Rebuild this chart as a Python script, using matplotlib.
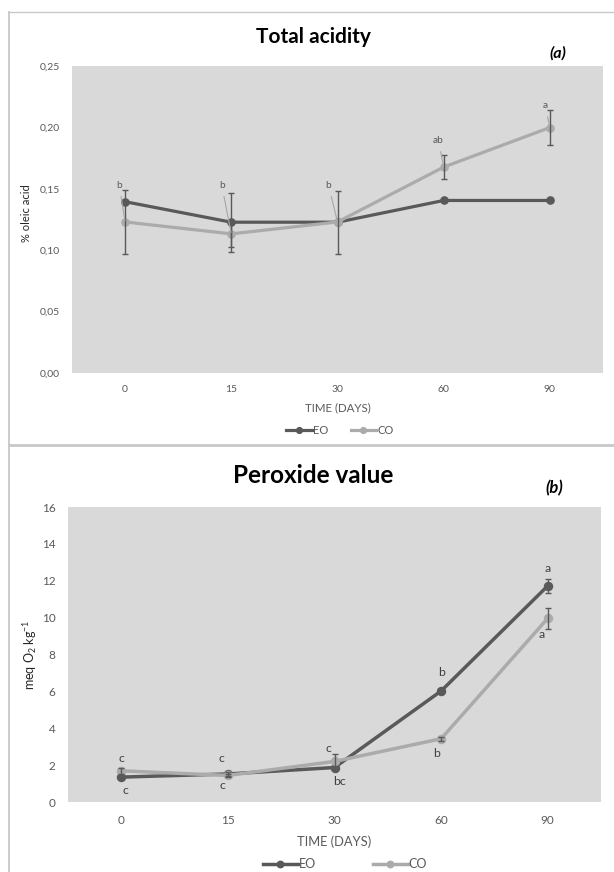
import numpy as np
import matplotlib
matplotlib.use("Agg")
import matplotlib.pyplot as plt
from matplotlib.lines import Line2D

plt.rcParams['font.family'] = ['Lato', 'DejaVu Sans']
plt.rcParams['mathtext.fontset'] = 'custom'
plt.rcParams['mathtext.rm'] = 'Lato'
plt.rcParams['mathtext.it'] = 'Lato:italic'
plt.rcParams['mathtext.bf'] = 'Lato:bold'

# ---------------- data ----------------
days = ["0", "15", "30", "60", "90"]

acid_eo = [0.1395, 0.1228, 0.1228, 0.1405, 0.1405]
acid_co = [0.1230, 0.1133, 0.1230, 0.1677, 0.1999]
acid_eo_err = [0.0, 0.024, 0.0255, 0.0, 0.0]
acid_co_err = [0.026, 0.011, 0.0, 0.010, 0.014]
acid_yticks = [0.00, 0.05, 0.10, 0.15, 0.20, 0.25]
acid_ytick_labels = ["0,00", "0,05", "0,10", "0,15", "0,20", "0,25"]
acid_letters = ["b", "b", "b", "ab", "a"]
acid_letter_y = [0.153, 0.153, 0.153, 0.1895, 0.218]
acid_letter_dx = [-0.055, -0.09, -0.085, -0.05, -0.045]

perox_eo = [1.35, 1.52, 1.87, 6.02, 11.72]
perox_co = [1.69, 1.44, 2.20, 3.43, 9.96]
perox_eo_err = [0.1, 0.1, 0.1, 0.1, 0.40]
perox_co_err = [0.15, 0.1, 0.40, 0.1, 0.57]
perox_yticks = [0, 2, 4, 6, 8, 10, 12, 14, 16]
perox_letters_top = ["c", "c", "c", "b", "a"]
perox_letters_top_y = [2.38, 2.38, 2.92, 7.0, 12.67]
perox_letters_top_dx = [0.0, -0.06, -0.055, 0.0, 0.0]
perox_letters_bot = ["c", "c", "bc", "b", "a"]
perox_letters_bot_y = [0.61, 0.88, 1.12, 2.61, 9.09]
perox_letters_bot_dx = [0.037, -0.055, 0.044, -0.04, -0.055]

# ---------------- style ----------------
W, H = 614, 872
EO_C = "#595959"
CO_C = "#ABABAB"
BG = "#D9D9D9"
TXT = "#595959"
FRAME = "#C8C8C8"

fig = plt.figure(figsize=(W / 100, H / 100), dpi=100)
fig.patch.set_facecolor("white")


def fx(px):
    return px / W


def fy(py):
    return 1 - py / H


# frames
fig.add_artist(Line2D([fx(8.5), fx(8.5)], [fy(12), fy(872)], color=FRAME, lw=1.3))
fig.add_artist(Line2D([fx(8.5), fx(614)], [fy(12), fy(12)], color=FRAME, lw=1.0))
fig.add_artist(Line2D([fx(8.5), fx(614)], [fy(445), fy(445)], color=FRAME, lw=2.0))

x = np.arange(len(days))


def draw_series(ax, eo, co, eo_err, co_err, lw, ms, capsize):
    ax.plot(x, eo, color=EO_C, lw=lw, marker="o", ms=ms, label="EO", zorder=3)
    ax.plot(x, co, color=CO_C, lw=lw, marker="o", ms=ms, label="CO", zorder=4)
    for vals, errs in ((eo, eo_err), (co, co_err)):
        idx = [i for i, e in enumerate(errs) if e > 0]
        ax.errorbar(x[idx], np.array(vals)[idx], yerr=np.array(errs)[idx], fmt="none",
                    ecolor=EO_C, elinewidth=1.0, capsize=capsize, capthick=1.0, zorder=5)


def style_axes(ax, fs):
    ax.set_facecolor(BG)
    for s in ax.spines.values():
        s.set_visible(False)
    ax.set_xlim(-0.5, len(days) - 0.5)
    ax.set_xticks(x)
    ax.set_xticklabels(days)
    ax.tick_params(length=0, labelsize=fs, colors=TXT, pad=9)
    ax.tick_params(axis="y", pad=9)


# ---------------- top panel ----------------
ax1 = fig.add_axes([fx(72), fy(373), fx(603) - fx(72), (373 - 66) / H])
style_axes(ax1, 7.5)
draw_series(ax1, acid_eo, acid_co, acid_eo_err, acid_co_err, 2.3, 5.2, 2.2)
ax1.set_ylim(0, 0.25)
ax1.set_yticks(acid_yticks)
ax1.set_yticklabels(acid_ytick_labels)
for i, lab in enumerate(acid_letters):
    ax1.annotate(lab, xy=(x[i], acid_co[i]), xytext=(x[i] + acid_letter_dx[i], acid_letter_y[i]),
                 ha="center", va="center", fontsize=7.3, color=TXT,
                 arrowprops=dict(arrowstyle="-", color="#A6A6A6", lw=0.8, shrinkA=3, shrinkB=1),
                 zorder=6)
ax1.set_ylabel("% oleic acid", fontsize=8, color="#262626", va="center")
ax1.yaxis.set_label_coords(-(72 - 26) / (603 - 72), 0.52)
ax1.set_xlabel("TIME (DAYS)", fontsize=8.3, color=TXT, va="center")
ax1.xaxis.set_label_coords(0.5, -(407.7 - 373) / (373 - 66))
fig.text(fx(313), fy(37), "Total acidity", ha="center", va="center",
         fontsize=15, fontweight="bold", color="black")
fig.text(fx(558), fy(53), "(a)", ha="center", va="center",
         fontsize=11.5, fontweight="bold", fontstyle="italic", color="black")
leg1 = ax1.legend(loc="center", bbox_to_anchor=(fx(340), fy(430)), bbox_transform=fig.transFigure,
                  ncol=2, frameon=False, fontsize=8, handlelength=2.3, columnspacing=2.0,
                  handletextpad=0.1, markerscale=0.8)
for t in leg1.get_texts():
    t.set_color(TXT)

# ---------------- bottom panel ----------------
ax2 = fig.add_axes([fx(68), fy(802), fx(601) - fx(68), (802 - 507) / H])
style_axes(ax2, 8.5)
draw_series(ax2, perox_eo, perox_co, perox_eo_err, perox_co_err, 2.5, 5.8, 2.5)
ax2.set_ylim(0, 16)
ax2.set_yticks(perox_yticks)
ax2.set_yticklabels([str(v) for v in perox_yticks])
for i in range(len(days)):
    ax2.text(x[i] + perox_letters_top_dx[i], perox_letters_top_y[i], perox_letters_top[i],
             ha="center", va="center", fontsize=8.8, color="#404040", zorder=6)
    ax2.text(x[i] + perox_letters_bot_dx[i], perox_letters_bot_y[i], perox_letters_bot[i],
             ha="center", va="center", fontsize=8.8, color="#404040", zorder=6)
ax2.set_ylabel(r"meq O$_2$ kg$^{-1}$", fontsize=9, color="#262626", va="center")
ax2.yaxis.set_label_coords(-(68 - 30) / (601 - 68), 0.5)
ax2.set_xlabel("TIME (DAYS)", fontsize=9.3, color=TXT, va="center")
ax2.xaxis.set_label_coords(0.5, -(841.7 - 802) / (802 - 507))
fig.text(fx(313), fy(475.5), "Peroxide value", ha="center", va="center",
         fontsize=17.5, fontweight="bold", color="black")
fig.text(fx(554), fy(488), "(b)", ha="center", va="center",
         fontsize=12, fontweight="bold", fontstyle="italic", color="black")
leg2 = ax2.legend(loc="center", bbox_to_anchor=(fx(345), fy(864)), bbox_transform=fig.transFigure,
                  ncol=2, frameon=False, fontsize=9, handlelength=2.8, columnspacing=4.5,
                  handletextpad=0.1, markerscale=0.8)
for t in leg2.get_texts():
    t.set_color(TXT)

fig.savefig("out.png", dpi=100)
